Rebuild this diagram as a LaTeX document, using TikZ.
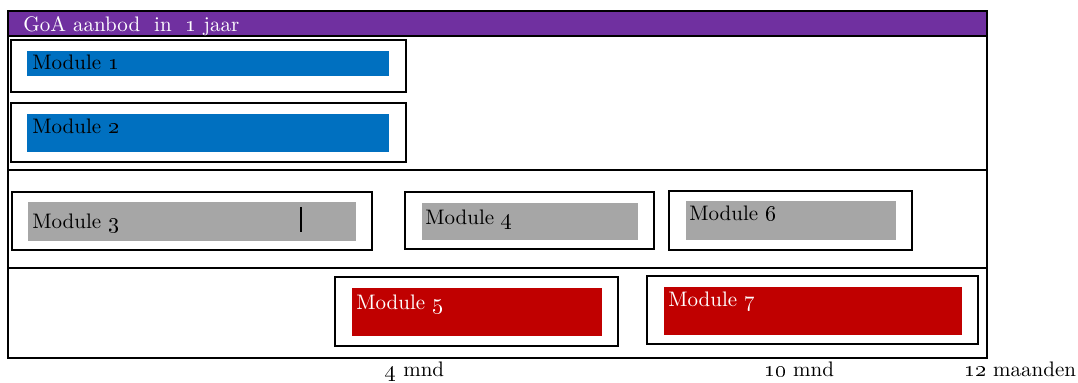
\documentclass[tikz,border=0pt]{standalone}
\usepackage{tikz}
\usepackage{xcolor}
\usetikzlibrary{positioning}

\definecolor{goapurple}{HTML}{7030A0}
\definecolor{modblue}{HTML}{0070C0}
\definecolor{modgrey}{HTML}{A6A6A6}
\definecolor{modred}{HTML}{C00000}

\tikzset{
	frame/.style={draw=black, line width=1pt},
	modbox/.style={draw=black, line width=0.8pt},
	modtext/.style={anchor=base west, inner sep=0pt, font=\fontsize{10.5}{12}\selectfont},
}

\begin{document}
\begin{tikzpicture}[x=0.5pt, y=-0.5pt]
				\useasboundingbox (0,0) rectangle (1078,383);
				
				\fill[goapurple] (8,11) rectangle (987,36);
				\draw[frame] (8,11) rectangle (987,358);
				\draw[frame] (8,36) -- (987,36);
				\draw[frame] (8,170) -- (987,170);
				\draw[frame] (8,268) -- (987,268);
				\node[modtext, text=white] (titel) at (23,32) {GoA aanbod\ \ in\ \ \oldstylenums{1} jaar};
				
				\draw[modbox] (11,40) rectangle (406,92);
				\fill[modblue] (27,51) rectangle (389,76);
				\node[modtext] (mod1) at (32,70) {Module \oldstylenums{1}};
				
				\draw[modbox] (11,103) rectangle (406,162);
				\fill[modblue] (27,114) rectangle (389,152);
				\node[modtext] (mod2) at (32,134) {Module \oldstylenums{2}};
				
				\draw[modbox] (12,192) rectangle (372,250);
				\fill[modgrey] (28,202) rectangle (356,241);
				\node[modtext] (mod3) at (32,229) {Module \oldstylenums{3}};
				\draw[line width=1pt] (301,207) -- (301,232);
				
				\draw[modbox] (405,192) rectangle (654,249);
				\fill[modgrey] (422,203) rectangle (638,240);
				\node[modtext] (mod4) at (425,225) {Module \oldstylenums{4}};
				
				\draw[modbox] (669,191) rectangle (912,250);
				\fill[modgrey] (686,201) rectangle (896,240);
				\node[modtext] (mod6) at (689,221) {Module \oldstylenums{6}};
				
				\draw[modbox] (335,277) rectangle (618,346);
				\fill[modred] (352,288) rectangle (602,336);
				\node[modtext, text=white] (mod5) at (356,310) {Module \oldstylenums{5}};
				
				\draw[modbox] (647,276) rectangle (978,344);
				\fill[modred] (664,287) rectangle (962,335);
				\node[modtext, text=white] (mod7) at (668,307) {Module \oldstylenums{7}};
				
				\node[modtext] (mnd4) at (385,377) {\oldstylenums{4} mnd};
				\node[modtext] (mnd10) at (764,377) {\oldstylenums{10} mnd};
				\node[modtext] (mnd12) at (964,377) {\oldstylenums{12} maanden};
\end{tikzpicture}
\end{document}
